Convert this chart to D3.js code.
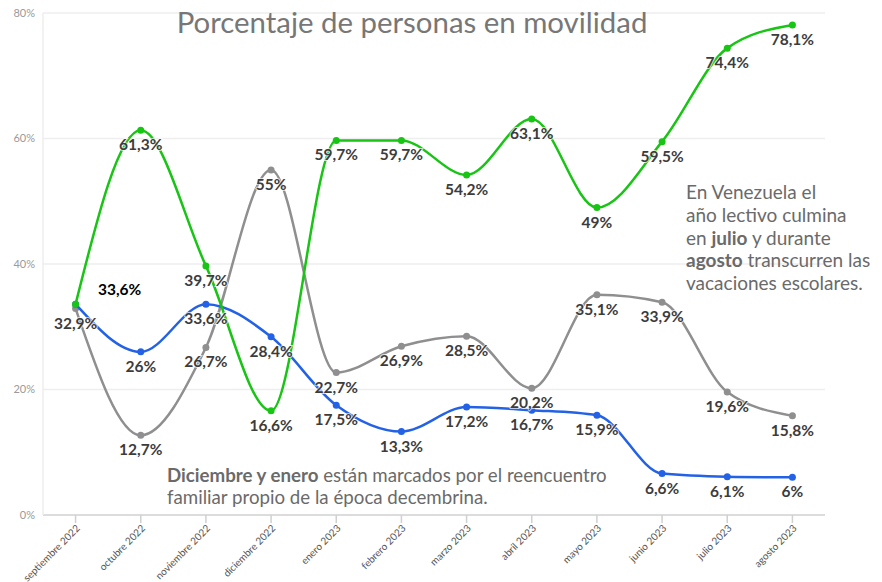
<!DOCTYPE html>
<html>
<head>
<meta charset="utf-8">
<script src="https://cdn.jsdelivr.net/npm/d3@7"></script>
<style>
  body { margin: 0; background: #fff; }
  svg { font-family: Lato, "Open Sans", sans-serif; }
</style>
</head>
<body>
<svg id="chart" width="882" height="582"></svg>
<script>
// months on the x axis
var months = ["septiembre 2022","octubre 2022","noviembre 2022","diciembre 2022","enero 2023","febrero 2023",
  "marzo 2023","abril 2023","mayo 2023","junio 2023","julio 2023","agosto 2023"];

// series values (%)
var greenValues = [33.6, 61.3, 39.7, 16.6, 59.7, 59.7, 54.2, 63.1, 49, 59.5, 74.4, 78.1];
var grayValues  = [32.9, 12.7, 26.7, 55, 22.7, 26.9, 28.5, 20.2, 35.1, 33.9, 19.6, 15.8];
var blueValues  = [33.6, 26, 33.6, 28.4, 17.5, 13.3, 17.2, 16.7, 15.9, 6.6, 6.1, 6];

var yTicks = [0, 20, 40, 60, 80];

var margin = {top: 13, left: 43, bottom: 67, right: 57};
var width = 882 - margin.left - margin.right;
var height = 582 - margin.top - margin.bottom;

var svg = d3.select("#chart");
var g = svg.append("g").attr("transform", "translate(" + margin.left + "," + margin.top + ")");

var xScale = d3.scalePoint().domain(months).range([0, width]).padding(0.5);
var yScale = d3.scaleLinear().domain([0, 80]).range([height, 0]);

var pct = function(v){ return String(v).replace(".", ",") + "%"; };

// grid
g.selectAll(".grid").data(yTicks).enter().append("line")
  .attr("x1", 0).attr("x2", width)
  .attr("y1", d => yScale(d)).attr("y2", d => yScale(d))
  .attr("stroke", d => d == 0 ? "#d0d0d0" : "#eeeeee")
  .attr("stroke-width", 1.5);

g.append("line").attr("x1", 0).attr("x2", 0).attr("y1", 0).attr("y2", height)
  .attr("stroke", "#eeeeee").attr("stroke-width", 1.5);

// y labels
g.selectAll(".ylab").data(yTicks).enter().append("text")
  .attr("x", -8).attr("y", d => yScale(d)).attr("dy", "0.35em")
  .attr("text-anchor", "end").attr("font-size", "11px").attr("fill", "#9a9a9a")
  .text(d => d + "%");

// x axis ticks + labels
var xAxis = g.append("g").attr("transform", "translate(0," + height + ")");
xAxis.selectAll("line").data(months).enter().append("line")
  .attr("x1", d => xScale(d)).attr("x2", d => xScale(d))
  .attr("y1", 0).attr("y2", 8).attr("stroke", "#d0d0d0").attr("stroke-width", 1.5);
xAxis.selectAll("text").data(months).enter().append("text")
  .attr("transform", d => "translate(" + (xScale(d) + 5) + ",14) rotate(-45)")
  .attr("text-anchor", "end").attr("font-size", "10px").attr("fill", "#555")
  .text(d => d);

// title
svg.append("text").attr("x", 412).attr("y", 33).attr("text-anchor", "middle")
  .attr("font-size", "29.4px").attr("fill", "#777").text("Porcentaje de personas en movilidad");

// lines
var series = [
  {id: "gray", color: "#8f8f8f", values: grayValues},
  {id: "blue", color: "#2361e6", values: blueValues},
  {id: "green", color: "#18c414", values: greenValues}
];

var line = d3.line()
  .x((d, i) => xScale(months[i]))
  .y(d => yScale(d))
  .curve(d3.curveMonotoneX);

series.forEach(function(s){
  var sg = g.append("g").attr("class", "series " + s.id);
  sg.append("path").attr("d", line(s.values))
    .attr("fill", "none").attr("stroke", s.color).attr("stroke-width", 2.5);
  sg.selectAll("circle").data(s.values).enter().append("circle")
    .attr("cx", (d, i) => xScale(months[i])).attr("cy", d => yScale(d))
    .attr("r", 3.5).attr("fill", s.color);
});

// value labels
var labels = g.append("g");
series.forEach(function(s){
  s.values.forEach(function(v, i){
    if (s.id == "blue" && i == 0) return; // overlaps green start
    var special = (s.id == "green" && i == 0);
    labels.append("text")
      .attr("x", xScale(months[i]) + (special ? 44 : 0))
      .attr("y", yScale(v) + (special ? -9 : 20))
      .attr("text-anchor", "middle")
      .attr("font-size", "15.5px").attr("font-weight", "bold")
      .attr("fill", special ? "#000" : "#3c3c3c")
      .attr("stroke", "#fff").attr("stroke-width", 2).attr("stroke-opacity", 0.7)
      .attr("paint-order", "stroke")
      .text(pct(v));
  });
});

// annotations
var note1 = svg.append("text").attr("font-size", "19px").attr("fill", "#6a6a6a");
var noteLines = [
  [["En Venezuela el", false]],
  [["año lectivo culmina", false]],
  [["en ", false], ["julio", true], [" y durante", false]],
  [["agosto", true], [" transcurren las", false]],
  [["vacaciones escolares.", false]]
];
noteLines.forEach(function(parts, k){
  var t = note1.append("tspan").attr("x", 686).attr("y", 199 + k * 22.8);
  parts.forEach(function(p, j){
    (j == 0 ? t : note1.append("tspan")).text(p[0])
      .attr("font-weight", p[1] ? "bold" : "normal");
  });
});

var note2 = svg.append("text").attr("font-size", "18.7px").attr("fill", "#6a6a6a");
note2.append("tspan").attr("x", 167).attr("y", 482).attr("font-weight", "bold").text("Diciembre y enero");
note2.append("tspan").text(" están marcados por el reencuentro");
note2.append("tspan").attr("x", 167).attr("y", 504).text("familiar propio de la época decembrina.");
</script>
</body>
</html>
